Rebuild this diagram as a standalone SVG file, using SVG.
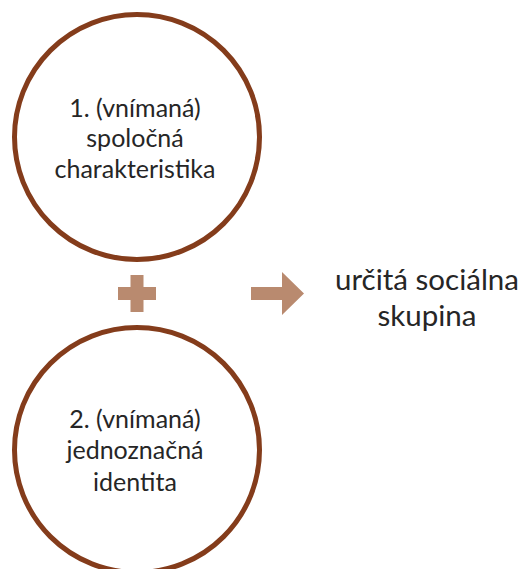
<svg xmlns="http://www.w3.org/2000/svg" width="522" height="569" viewBox="0 0 522 569">
  <style>
    .ring { fill: #ffffff; stroke: #843c1b; stroke-width: 5; }
    .label { font-family: Lato, "Liberation Sans", sans-serif; fill: #262626; text-anchor: middle; }
    .inner { font-size: 25px; }
    .result { font-size: 29.5px; }
    .sign { fill: #b98a6f; }
  </style>
  <rect width="522" height="569" fill="#ffffff"/>

  <g id="node-characteristic">
    <circle class="ring" cx="137" cy="137" r="122.5"/>
    <text class="label inner" x="135" y="117">1. (vnímaná)</text>
    <text class="label inner" x="135" y="147">spoločná</text>
    <text class="label inner" x="135" y="178">charakteristika</text>
  </g>

  <g id="node-identity">
    <circle class="ring" cx="137" cy="450" r="122.5"/>
    <text class="label inner" x="135" y="428">2. (vnímaná)</text>
    <text class="label inner" x="135" y="459">jednoznačná</text>
    <text class="label inner" x="135" y="491">identita</text>
  </g>

  <g id="connectors">
    <!-- plus sign joining the two conditions -->
    <path id="plus" class="sign" d="M130.5,275 H143.5 V287 H156 V300 H143.5 V312 H130.5 V300 H118 V287 H130.5 Z"/>
    <!-- block arrow pointing to the result -->
    <path id="arrow" class="sign" d="M251,287 H282 V272 L304,293.5 L282,315 V300 H251 Z"/>
  </g>

  <g id="node-group">
    <text class="label result" x="427" y="290">určitá sociálna</text>
    <text class="label result" x="427" y="326">skupina</text>
  </g>
</svg>
